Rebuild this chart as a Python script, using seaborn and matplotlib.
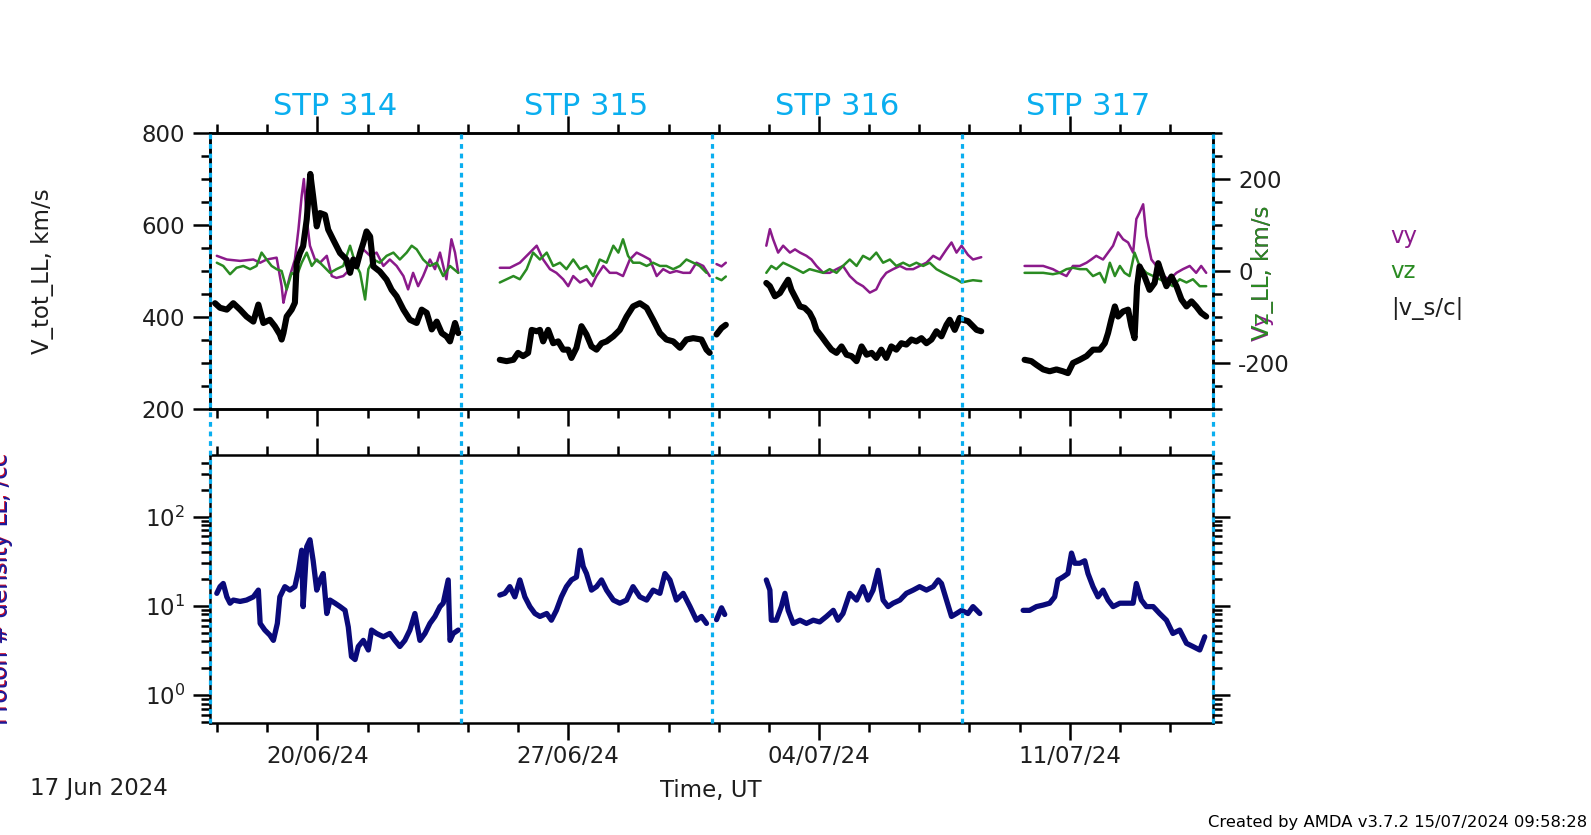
import numpy as np
import pandas as pd
import matplotlib
matplotlib.use("Agg")
import matplotlib.pyplot as plt
import matplotlib.ticker as mticker
import matplotlib.dates as mdates
import matplotlib.transforms as mtrans
import seaborn as sns

sns.set_theme(style="white")
plt.rcParams["font.family"] = ["DejaVu Sans"]
plt.rcParams["mathtext.fontset"] = "dejavusans"
plt.rcParams["axes.unicode_minus"] = False

NaN = np.nan
START = "2024-06-17"
END = "2024-07-15"
stp_bounds = [0, 7, 14, 21, 28]          # days after START
stp_labels = ["STP 314", "STP 315", "STP 316", "STP 317"]

# ---- |v_s/c| (V_tot_LL, km/s) : days after START, values ----
vtot_t = [0.14, 0.28, 0.47, 0.65, 0.84, 1.02, 1.21, 1.35, 1.49, 1.67, 1.81, 1.95, 2.00, 2.05, 2.14, 2.28,
          2.37, 2.42, 2.51, 2.60, 2.70, 2.80, 2.88, 2.98, 3.07, 3.21, 3.30, 3.44, 3.63, 3.81, 3.91, 4.00,
          4.09, 4.19, 4.28, 4.37, 4.47, 4.56, 4.74, 4.93, 5.07, 5.21, 5.40, 5.58, 5.77, 5.91, 6.05, 6.19,
          6.33, 6.47, 6.60, 6.70, 6.84, 6.93,
          7.50,
          8.09, 8.28, 8.47, 8.60, 8.74, 8.88, 8.98, 9.12, 9.21, 9.30, 9.44, 9.58, 9.72, 9.86, 10.00, 10.09,
          10.23, 10.37, 10.51, 10.65, 10.79, 10.93, 11.07, 11.26, 11.44, 11.63, 11.81, 12.00, 12.19, 12.37,
          12.56, 12.74, 12.93, 13.12, 13.30, 13.49, 13.72, 13.86, 13.95,
          14.05,
          14.14, 14.28, 14.40,
          15.00,
          15.53, 15.63, 15.77, 15.91, 16.05, 16.14, 16.23, 16.37, 16.47, 16.60, 16.74, 16.84, 16.93, 17.07,
          17.21, 17.35, 17.49, 17.63, 17.77, 17.91, 18.05, 18.19, 18.33, 18.47, 18.60, 18.74, 18.88, 19.02,
          19.16, 19.30, 19.44, 19.58, 19.72, 19.86, 20.00, 20.14, 20.28, 20.42, 20.56, 20.65, 20.79, 20.93,
          21.02, 21.16, 21.30, 21.40, 21.53,
          22.00,
          22.74, 22.93, 23.07, 23.26, 23.44, 23.63, 23.81, 23.95, 24.09, 24.28, 24.47, 24.65, 24.84, 24.98,
          25.07, 25.16, 25.26, 25.35, 25.49, 25.63, 25.72, 25.81, 25.88, 25.95, 26.09, 26.23, 26.37, 26.47,
          26.56, 26.70, 26.84, 26.98, 27.12, 27.26, 27.40, 27.53, 27.67, 27.81]
vtot_v = [430, 420, 416, 430, 416, 401, 390, 427, 387, 394, 380, 362, 351, 365, 401, 416,
          431, 517, 539, 554, 612, 711, 662, 597, 626, 622, 590, 568, 539, 525, 496, 525,
          510, 539, 561, 586, 575, 510, 499, 481, 459, 445, 416, 394, 387, 416, 409, 373,
          390, 365, 358, 347, 387, 365,
          NaN,
          307, 304, 307, 322, 315, 322, 372, 369, 372, 347, 372, 343, 347, 329, 329, 311,
          333, 380, 362, 336, 329, 343, 347, 358, 372, 401, 423, 430, 420, 394,
          365, 351, 347, 333, 351, 354, 351, 329, 322,
          NaN,
          362, 376, 383,
          NaN,
          474, 467, 445, 452, 470, 481, 459, 438, 423, 420, 409, 394, 372, 358,
          343, 329, 322, 336, 318, 315, 304, 336, 318, 322, 311, 329, 311, 336,
          329, 343, 340, 351, 347, 354, 343, 351, 369, 358, 383, 394, 372, 398,
          394, 391, 380, 372, 369,
          NaN,
          307, 304, 296, 286, 282, 286, 282, 278, 300, 307, 315, 329, 329, 343,
          365, 394, 423, 401, 412, 416, 380, 354, 467, 510, 488, 459, 474, 517,
          496, 467, 488, 467, 438, 423, 434, 423, 409, 401]

# ---- vy (km/s) ----
vy_t = [0.19, 0.47, 0.84, 1.21, 1.40, 1.58, 1.86, 2.00, 2.05, 2.09, 2.23, 2.37, 2.47, 2.56, 2.62, 2.70,
        2.79, 2.93, 3.07, 3.26, 3.40, 3.53, 3.72, 3.91, 4.09, 4.28, 4.47, 4.65, 4.84, 5.02, 5.21, 5.40,
        5.53, 5.67, 5.81, 5.95, 6.14, 6.28, 6.42, 6.60, 6.74, 6.84, 6.93,
        7.50,
        8.09, 8.37, 8.65, 8.93, 9.12, 9.30, 9.49, 9.67, 9.86, 10.00, 10.14, 10.33, 10.51, 10.65, 10.79,
        10.98, 11.16, 11.35, 11.53, 11.72, 11.91, 12.09, 12.28, 12.47, 12.65, 12.84, 13.02, 13.21, 13.40,
        13.58, 13.77, 13.95,
        14.05,
        14.14, 14.28, 14.40,
        15.00,
        15.53, 15.63, 15.72, 15.86, 16.00, 16.19, 16.33, 16.47, 16.65, 16.79, 16.93, 17.12, 17.30, 17.49,
        17.67, 17.86, 18.05, 18.23, 18.42, 18.60, 18.74, 18.88, 19.07, 19.26, 19.44, 19.63, 19.81, 20.00,
        20.19, 20.37, 20.56, 20.70, 20.84, 20.98, 21.16, 21.30, 21.53,
        22.00,
        22.74, 22.98, 23.26, 23.53, 23.72, 23.91, 24.09, 24.28, 24.47, 24.60, 24.74, 24.93, 25.07, 25.21,
        25.35, 25.49, 25.63, 25.77, 25.86, 25.95, 26.05, 26.14, 26.28, 26.42, 26.60, 26.79, 26.98, 27.16,
        27.35, 27.53, 27.67, 27.81]
vy_v = [33, 25, 22, 25, 18, 25, 29, -33, -69, -55, -11, 25, 91, 164, 200, 113,
        55, 25, 18, 33, -11, -15, -11, 4, 25, 47, 33, 40, 11, 25, 11, -11,
        -40, -4, -33, -11, 25, 4, 40, -18, 69, 40, -4,
        NaN,
        7, 7, 18, 40, 55, 25, 4, -4, -18, -33, -11, -25, -18, -33, -11,
        11, -4, -4, -11, 25, 40, 33, 25, -11, 4, -4, 0, -4, -4,
        18, 11, -11,
        NaN,
        15, 10, 18,
        NaN,
        55, 91, 69, 40, 55, 40, 47, 40, 33, 25, 11, -4, -4, 4,
        11, -11, -25, -33, -47, -40, -18, -4, 4, 11, 4, 4, 11, 18,
        33, 25, 47, 62, 40, 55, 35, 25, 30,
        NaN,
        11, 11, 11, 4, -4, -11, 11, 11, 18, 25, 33, 25, 40, 55,
        84, 69, 62, 40, 113, 127, 145, 76, 25, 11, -11, -18, -4, 4,
        11, -4, 11, -4]

# ---- vz (km/s) ----
vz_t = [0.19, 0.37, 0.56, 0.74, 0.93, 1.12, 1.30, 1.44, 1.58, 1.72, 1.86, 2.00, 2.14, 2.28, 2.42, 2.56,
        2.70, 2.84, 2.98, 3.16, 3.35, 3.53, 3.72, 3.91, 4.05, 4.19, 4.33, 4.42, 4.56, 4.74, 4.93, 5.12,
        5.30, 5.49, 5.63, 5.77, 5.95, 6.14, 6.33, 6.51, 6.70, 6.93,
        7.50,
        8.09, 8.28, 8.47, 8.65, 8.84, 9.02, 9.21, 9.40, 9.58, 9.77, 9.95, 10.14, 10.33, 10.51, 10.70,
        10.88, 11.07, 11.26, 11.40, 11.53, 11.67, 11.81, 12.00, 12.19, 12.37, 12.56, 12.74, 12.93, 13.12,
        13.30, 13.49, 13.67, 13.86,
        14.05,
        14.14, 14.28, 14.40,
        15.00,
        15.53, 15.67, 15.81, 16.00, 16.19, 16.37, 16.56, 16.74, 16.93, 17.12, 17.30, 17.49, 17.67, 17.86,
        18.05, 18.23, 18.42, 18.60, 18.79, 18.98, 19.16, 19.35, 19.53, 19.72, 19.91, 20.09, 20.28, 20.47,
        20.65, 20.84, 20.98, 21.16, 21.30, 21.53,
        22.00,
        22.74, 22.98, 23.26, 23.53, 23.72, 23.91, 24.09, 24.28, 24.47, 24.65, 24.84, 24.98, 25.12, 25.26,
        25.40, 25.53, 25.67, 25.81, 25.95, 26.14, 26.33, 26.51, 26.70, 26.88, 27.07, 27.26, 27.44, 27.63,
        27.81]
vz_v = [18, 11, -7, 7, 11, 4, 11, 40, 25, 11, 4, 0, -40, -4, -11, 18,
        40, 11, 25, 11, -4, 4, 11, 55, 18, -4, -62, 4, 25, 18, 33, 40,
        25, 40, 55, 47, 25, 11, 18, -11, 11, -4,
        NaN,
        -25, -18, -11, -18, 4, 40, 25, 40, 11, 18, 4, 25, 4, 11, -11,
        25, 18, 55, 40, 69, 33, 18, 18, 11, 18, 11, 11, 4, 11,
        25, 18, 11, -4,
        NaN,
        -15, -20, -12,
        NaN,
        -4, 11, 4, 18, 11, 4, -4, 4, 0, -4, 4, -4, 11, 25,
        11, 33, 25, 40, 18, 25, 11, 18, 11, 18, 11, 18, 4, -4,
        -11, -18, -25, -22, -20, -22,
        NaN,
        -4, -4, -4, -7, -4, 4, 7, 4, 4, -11, -4, -25, 18, -11,
        11, -4, -11, 40, 11, -4, -11, -18, -25, -33, -18, -25, -18, -33,
        -33]

# ---- Proton density (/cc) ----
dens_t = [0.19, 0.28, 0.37, 0.47, 0.56, 0.65, 0.84, 1.02, 1.21, 1.35, 1.40, 1.53, 1.67, 1.77, 1.88, 1.95,
          2.09, 2.23, 2.37, 2.47, 2.56, 2.60, 2.70, 2.79, 2.88, 2.98, 3.07, 3.16, 3.26, 3.35, 3.49, 3.63,
          3.77, 3.86, 3.95, 4.05, 4.14, 4.28, 4.42, 4.51, 4.65, 4.84, 5.02, 5.16, 5.30, 5.44, 5.58, 5.72,
          5.86, 6.00, 6.14, 6.28, 6.42, 6.51, 6.65, 6.70, 6.79, 6.93,
          7.50,
          8.09, 8.23, 8.37, 8.51, 8.65, 8.79, 8.93, 9.07, 9.21, 9.40, 9.53, 9.67, 9.81, 9.95, 10.09, 10.23,
          10.33, 10.42, 10.51, 10.65, 10.79, 10.93, 11.07, 11.26, 11.44, 11.63, 11.81, 12.00, 12.19, 12.37,
          12.56, 12.70, 12.84, 13.02, 13.21, 13.40, 13.58, 13.72, 13.86,
          14.05,
          14.14, 14.28, 14.37,
          15.00,
          15.53, 15.63, 15.67, 15.81, 15.95, 16.05, 16.14, 16.28, 16.47, 16.65, 16.84, 17.02, 17.21, 17.40,
          17.53, 17.67, 17.86, 18.05, 18.23, 18.37, 18.51, 18.65, 18.79, 18.93, 19.07, 19.26, 19.44, 19.63,
          19.81, 20.00, 20.19, 20.33, 20.42, 20.56, 20.70, 20.84, 20.98, 21.16, 21.30, 21.49,
          22.00,
          22.70, 22.88, 23.07, 23.26, 23.44, 23.58, 23.67, 23.81, 23.95, 24.05, 24.14, 24.28, 24.42, 24.51,
          24.65, 24.79, 24.93, 25.07, 25.21, 25.40, 25.58, 25.77, 25.86, 26.00, 26.14, 26.33, 26.51, 26.70,
          26.88, 27.07, 27.26, 27.44, 27.63, 27.77]
dens_v = [13.8, 16.4, 17.8, 12.6, 10.7, 11.6, 11.2, 11.6, 12.6, 15.0, 6.35, 5.35, 4.7, 4.1, 6.35, 12.6,
          16.4, 15.0, 16.4, 25, 42, 9.8, 46, 55, 32, 15, 19.5, 23, 8.2, 11.6, 10.7, 9.8,
          8.9, 5.8, 2.7, 2.5, 3.5, 4.1, 3.2, 5.35, 4.9, 4.5, 4.9, 4.1, 3.5, 4.1, 5.35, 8.2,
          4.1, 4.9, 6.35, 7.6, 9.8, 10.7, 19.5, 4.1, 4.9, 5.35,
          NaN,
          13.2, 13.8, 16.4, 12.6, 19.5, 12.6, 9.8, 8.2, 7.6, 8.2, 6.9, 8.9, 12.6, 16.4, 19.5, 21,
          42, 27.5, 23, 15, 16.4, 19.5, 15, 11.6, 10.7, 11.6, 16.4, 12.6, 11.6, 15,
          13.8, 23, 19.5, 11.6, 13.8, 9.8, 6.9, 7.6, 6.35,
          NaN,
          7.0, 9.5, 8.0,
          NaN,
          19.5, 15, 6.9, 6.9, 9.8, 13.8, 8.9, 6.35, 6.9, 6.35, 6.9, 6.6, 7.6, 8.9,
          6.9, 8.2, 13.8, 11.6, 16.4, 11.6, 15, 25, 11.6, 9.8, 10.7, 11.6, 13.8, 15,
          16.4, 15, 16.4, 19.5, 17.8, 11.6, 7.6, 8.2, 8.9, 8.2, 9.8, 8.2,
          NaN,
          8.9, 8.9, 9.8, 10.2, 10.7, 12.6, 19.5, 21, 23, 39, 30, 30, 32, 23,
          16.4, 12.6, 15, 11.6, 9.8, 10.7, 10.7, 10.7, 17.8, 11.6, 9.8, 9.8, 8.2, 6.9,
          4.9, 5.35, 3.8, 3.5, 3.2, 4.5]

# ------------------------------------------------------------------
W, H = 1591, 835
C_CYAN = "#0AAEEF"
C_VY = "#8B1A8B"
C_VZ = "#2A8B22"
C_N = "#0A0A7A"
C_TXT = "#1e1e1e"
FS = 16.5

t_start = mdates.date2num(np.datetime64(START))
t_end = mdates.date2num(np.datetime64(END))


def frame(days, vals):
    d = np.asarray(days, float)
    v = np.asarray(vals, float)
    seg = np.cumsum(np.isnan(v))
    df = pd.DataFrame({"t": t_start + d, "val": v, "seg": seg})
    return df.dropna()


fig = plt.figure(figsize=(W / 100, H / 100), dpi=100)
fig.patch.set_facecolor("white")


def rect(x0, y0, x1, y1):
    return [x0 / W, 1 - y1 / H, (x1 - x0) / W, (y1 - y0) / H]


ax1 = fig.add_axes(rect(210, 133, 1213, 409))
ax2 = fig.add_axes(rect(210, 455, 1213, 722.7))
ax1r = ax1.twinx()

# right axis series (vy, vz)
sns.lineplot(data=frame(vy_t, vy_v), x="t", y="val", units="seg", estimator=None, sort=False,
             color=C_VY, lw=1.8, ax=ax1r, legend=False)
sns.lineplot(data=frame(vz_t, vz_v), x="t", y="val", units="seg", estimator=None, sort=False,
             color=C_VZ, lw=1.8, ax=ax1r, legend=False)
# left axis |v_s/c|
sns.lineplot(data=frame(vtot_t, vtot_v), x="t", y="val", units="seg", estimator=None, sort=False,
             color="black", lw=4.4, ax=ax1, legend=False)
ax1.set_zorder(ax1r.get_zorder() + 1)
ax1.patch.set_visible(False)

# density
sns.lineplot(data=frame(dens_t, dens_v), x="t", y="val", units="seg", estimator=None, sort=False,
             color=C_N, lw=3.8, ax=ax2, legend=False)

for a in (ax1, ax1r, ax2):
    a.set_xlim(t_start, t_end)
    a.set_xlabel("")
    a.set_ylabel("")
    for s in a.spines.values():
        s.set_color("black")
        s.set_linewidth(1.8)
    a.tick_params(which="major", length=12, width=1.8, direction="out", color="black",
                  labelsize=FS, labelcolor=C_TXT, pad=6)
    a.tick_params(which="minor", length=6.5, width=1.8, direction="out", color="black")
    a.xaxis.set_major_locator(mticker.MultipleLocator(7))
    a.xaxis.set_minor_locator(mticker.MultipleLocator(1.4))
    a.xaxis.set_major_formatter(mdates.DateFormatter("%d/%m/%y"))

ax1.set_ylim(200, 800)
ax1.yaxis.set_major_locator(mticker.MultipleLocator(200))
ax1.yaxis.set_minor_locator(mticker.MultipleLocator(50))
ax1.tick_params(axis="x", which="both", top=True, bottom=True, labelbottom=False, labeltop=False)
ax1.tick_params(axis="y", which="both", left=True, right=False)

ax1r.set_ylim(-300, 300)
ax1r.yaxis.set_major_locator(mticker.MultipleLocator(200))
ax1r.yaxis.set_minor_locator(mticker.MultipleLocator(50))
ax1r.tick_params(axis="y", which="both", right=True, left=False, labelright=True, labelleft=False)
ax1r.tick_params(axis="x", which="both", top=False, bottom=False, labelbottom=False)

ax2.set_yscale("log")
ax2.set_ylim(0.49, 490)
ax2.yaxis.set_major_locator(mticker.LogLocator(base=10))
ax2.yaxis.set_minor_locator(mticker.LogLocator(base=10, subs=np.arange(2, 10), numticks=20))
ax2.yaxis.set_minor_formatter(mticker.NullFormatter())
ax2.tick_params(axis="x", which="both", top=True, bottom=True, labelbottom=True, labeltop=False)
ax2.tick_params(axis="x", which="major", pad=4)
ax2.tick_params(axis="y", which="both", left=True, right=True, labelleft=True, labelright=False)

# STP boundaries
gap = (455 - 409) / (409 - 133)
for b in stp_bounds:
    x = t_start + b
    ax1.axvline(x, ymin=-gap, ymax=1, clip_on=False, color=C_CYAN, lw=2.3,
                linestyle=(0, (1.5, 1.5)), zorder=20)
    ax2.axvline(x, ymin=0, ymax=1, clip_on=False, color=C_CYAN, lw=2.3,
                linestyle=(0, (1.5, 1.5)), zorder=20)

trans = mtrans.blended_transform_factory(ax1.transData, ax1.transAxes)
for i, lab in enumerate(stp_labels):
    xm = t_start + (stp_bounds[i] + stp_bounds[i + 1]) / 2
    ax1.text(xm, (409 - 106.5) / (409 - 133), lab, transform=trans, ha="center", va="center",
             fontsize=22, color=C_CYAN)


def ftext(px, py, s, **kw):
    fig.text(px / W, 1 - py / H, s, **kw)


ftext(43, 271, "V_tot_LL, km/s", rotation=90, ha="center", va="center", fontsize=FS, color=C_TXT)
ftext(1263, 273, "Vy_LL, km/s", rotation=90, ha="center", va="center", fontsize=FS, color=C_VY)
ftext(1263, 273, "Vz_LL, km/s", rotation=90, ha="center", va="center", fontsize=FS, color=C_VZ)
ftext(12, 588, "Proton # density LL, /cc", rotation=90, ha="right", va="center", fontsize=FS,
      color="#d0102a")
ftext(13.5, 589, "Proton # density LL, /cc", rotation=90, ha="right", va="center", fontsize=FS,
      color="#1a1a9a")

ftext(1390, 237, "vy", ha="left", va="center", fontsize=FS, color=C_VY)
ftext(1390, 272, "vz", ha="left", va="center", fontsize=FS, color=C_VZ)
ftext(1391, 308, "|v_s/c|", ha="left", va="center", fontsize=FS, color=C_TXT)

ftext(30, 789, "17 Jun 2024", ha="left", va="center", fontsize=FS, color=C_TXT)
ftext(711, 791, "Time, UT", ha="center", va="center", fontsize=FS, color=C_TXT)
ftext(1587, 823, "Created by AMDA v3.7.2 15/07/2024 09:58:28", ha="right", va="center",
      fontsize=11.8, color="black")

fig.savefig("out.png", dpi=100, facecolor="white")
